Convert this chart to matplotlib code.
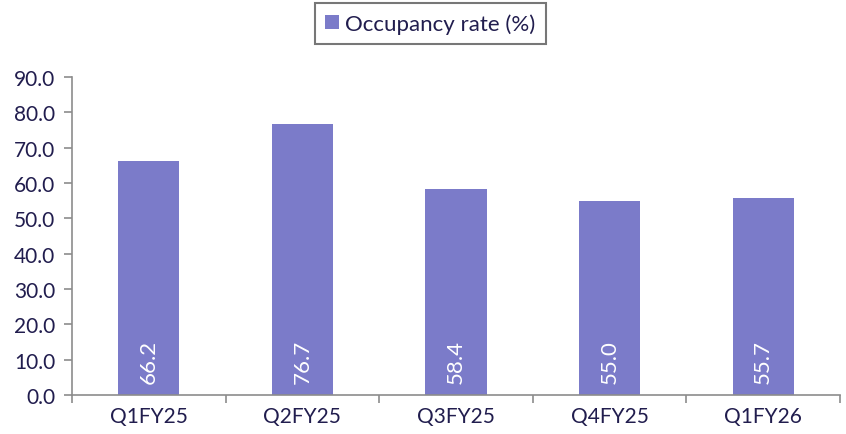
import matplotlib.pyplot as plt
from matplotlib.patches import Patch

quarters = ['Q1FY25', 'Q2FY25', 'Q3FY25', 'Q4FY25', 'Q1FY26']
occupancy = [66.2, 76.7, 58.4, 55.0, 55.7]

bar_color = '#7b7bc9'
text_color = '#211d4e'

plt.rcParams['font.family'] = ['Lato', 'DejaVu Sans']

fig = plt.figure(figsize=(8.46, 4.35), dpi=100)
ax = fig.add_axes([0.085, 0.0897, 0.908, 0.731])

x = range(len(quarters))
bars = ax.bar(x, occupancy, width=0.4, color=bar_color, zorder=2)

for i, v in enumerate(occupancy):
    ax.text(i, 3.3, '{:.1f}'.format(v), rotation=90, ha='center', va='bottom',
            color='white', fontsize=16)

ax.set_xlim(-0.5, len(quarters) - 0.5)
ax.set_ylim(0, 90)
ax.set_yticks(range(0, 91, 10))
ax.set_yticklabels(['{:.1f}'.format(t) for t in range(0, 91, 10)])
ax.set_xticks(list(x))
ax.set_xticklabels(quarters)
ax.set_xticks([i + 0.5 for i in range(-1, len(quarters))], minor=True)

for s in ['top', 'right']:
    ax.spines[s].set_visible(False)
for s in ['left', 'bottom']:
    ax.spines[s].set_color('#8c8c8c')
    ax.spines[s].set_linewidth(1.2)

ax.tick_params(axis='y', colors='#8c8c8c', labelcolor=text_color, labelsize=15,
               length=6, width=1.2, pad=6)
ax.tick_params(axis='x', which='major', length=0, labelcolor=text_color,
               labelsize=15, pad=8)
ax.tick_params(axis='x', which='minor', colors='#8c8c8c', length=6, width=1.2)

handle = Patch(facecolor=bar_color, edgecolor='none')
leg = fig.legend([handle], ['Occupancy rate (%)'], loc='upper center',
                 bbox_to_anchor=(0.509, 0.99), frameon=True, fancybox=False,
                 fontsize=16, handlelength=0.6, handleheight=0.6,
                 handletextpad=0.3, borderpad=0.45, borderaxespad=0,
                 labelcolor=text_color)
leg.get_frame().set_edgecolor('#555555')
leg.get_frame().set_linewidth(1.5)

plt.savefig('out.png', dpi=100)
